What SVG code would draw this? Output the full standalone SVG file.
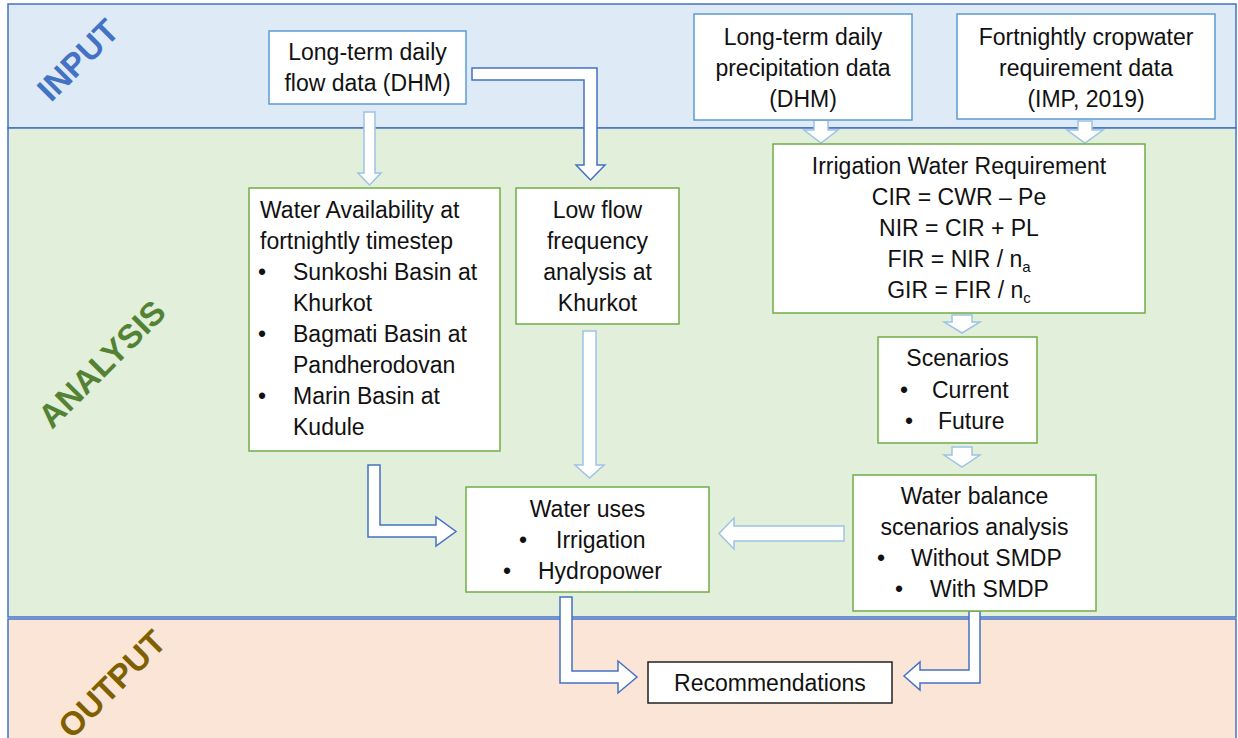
<svg xmlns="http://www.w3.org/2000/svg" width="1238" height="738" viewBox="0 0 1238 738">
<style>
.band{stroke:#4472C4;stroke-width:1.5}
.bx{fill:#fff;stroke-width:1.5}
.bb{stroke:#5B9BD5}
.gb{stroke:#70AD47}
.kb{stroke:#222}
text{font-family:"Liberation Sans",Arial,sans-serif;font-size:23px;fill:#111}
.c{text-anchor:middle}
.lbl{font-size:33px;font-weight:bold;text-anchor:middle}
.al{fill:#fff;stroke:#9DC3E6;stroke-width:1.5}
.ad{fill:#fff;stroke:#4472C4;stroke-width:1.5}
</style>
<g id="bands">
<rect class="band" x="8" y="4" width="1228" height="124" fill="#DEEBF7"/>
<rect class="band" x="8" y="128" width="1228" height="489" fill="#E2EFDA"/>
<rect class="band" x="8" y="619" width="1228" height="125" fill="#FBE5D6"/>
<text class="lbl" style="fill:#4472C4" transform="translate(86,68) rotate(-45)">INPUT</text>
<text class="lbl" style="fill:#548235" transform="translate(110,372) rotate(-45)">ANALYSIS</text>
<text class="lbl" style="fill:#7F6000" transform="translate(120,692) rotate(-45)">OUTPUT</text>
</g>
<g id="connectors">
<polygon class="al" points="364,112 375,112 375,173 381,173 369.5,185 358,173 364,173"/>
<polygon class="ad" points="472,68 597,68 597,165 605,165 590.5,180 576,165 584,165 584,80 472,80"/>
<polygon class="al" points="814,120 828,120 828,130 838,130 821,143 804,130 814,130"/>
<polygon class="al" points="1078,121 1092,121 1092,130 1103,130 1085,143 1067,130 1078,130"/>
<polygon class="al" points="952,315 972,315 972,322 980,322 962,333 944,322 952,322"/>
<polygon class="al" points="952,447 972,447 972,455 980,455 962,467 944,455 952,455"/>
<polygon class="al" points="583,331 596,331 596,465 604,465 589.5,478 575,465 583,465"/>
<polygon class="ad" points="368,465 380,465 380,525 436,525 436,517 456,531.5 436,546 436,537 368,537"/>
<polygon class="al" points="844,526 844,541 734,541 734,549 719,533.5 734,518 734,526"/>
<polygon class="ad" points="560,597 572,597 572,671 618,671 618,661 637,677 618,693 618,683 560,683"/>
<polygon class="ad" points="969,611 980,611 980,683 920,683 920,690 904,676 920,662 920,670 969,670"/>
</g>
<g id="n-flow">
<rect class="bx bb" x="269" y="31" width="197" height="73"/>
<text class="c" x="367.5" y="60">Long-term daily</text>
<text class="c" x="367.5" y="91">flow data (DHM)</text>
</g>
<g id="n-precip">
<rect class="bx bb" x="694" y="14" width="218" height="106"/>
<text class="c" x="803" y="45">Long-term daily</text>
<text class="c" x="803" y="76">precipitation data</text>
<text class="c" x="803" y="107">(DHM)</text>
</g>
<g id="n-crop">
<rect class="bx bb" x="957" y="14" width="258" height="105"/>
<text class="c" x="1086" y="45">Fortnightly cropwater</text>
<text class="c" x="1086" y="76">requirement data</text>
<text class="c" x="1086" y="107">(IMP, 2019)</text>
</g>
<g id="n-iwr">
<rect class="bx gb" x="773" y="144" width="372" height="169"/>
<text class="c" x="959" y="174">Irrigation Water Requirement</text>
<text class="c" x="959" y="205">CIR = CWR – Pe</text>
<text class="c" x="959" y="236">NIR =  CIR + PL</text>
<text class="c" x="959" y="267">FIR = NIR / n<tspan font-size="15" dy="5">a</tspan></text>
<text class="c" x="959" y="298">GIR = FIR / n<tspan font-size="15" dy="5">c</tspan></text>
</g>
<g id="n-avail">
<rect class="bx gb" x="249" y="188" width="251" height="263"/>
<text x="260" y="218">Water Availability at</text>
<text x="260" y="249">fortnightly timestep</text>
<text x="258" y="280">•</text><text x="293" y="280">Sunkoshi Basin at</text>
<text x="293" y="311">Khurkot</text>
<text x="258" y="342">•</text><text x="293" y="342">Bagmati Basin at</text>
<text x="293" y="373">Pandherodovan</text>
<text x="258" y="404">•</text><text x="293" y="404">Marin Basin at</text>
<text x="293" y="435">Kudule</text>
</g>
<g id="n-lowflow">
<rect class="bx gb" x="516" y="188" width="163" height="136"/>
<text class="c" x="597.5" y="218">Low flow</text>
<text class="c" x="597.5" y="249">frequency</text>
<text class="c" x="597.5" y="280">analysis at</text>
<text class="c" x="597.5" y="311">Khurkot</text>
</g>
<g id="n-scen">
<rect class="bx gb" x="878" y="337" width="159" height="106"/>
<text class="c" x="957.5" y="366">Scenarios</text>
<text x="900" y="398">•</text><text x="932" y="398">Current</text>
<text x="905" y="429">•</text><text x="938" y="429">Future</text>
</g>
<g id="n-balance">
<rect class="bx gb" x="853" y="475" width="243" height="136"/>
<text class="c" x="974.5" y="504">Water balance</text>
<text class="c" x="974.5" y="535">scenarios analysis</text>
<text x="877" y="566">•</text><text x="911" y="566">Without SMDP</text>
<text x="895" y="597">•</text><text x="930" y="597">With SMDP</text>
</g>
<g id="n-uses">
<rect class="bx gb" x="466" y="487" width="243" height="105"/>
<text class="c" x="587.5" y="517">Water uses</text>
<text x="519" y="548">•</text><text x="556" y="548">Irrigation</text>
<text x="503" y="579">•</text><text x="538" y="579">Hydropower</text>
</g>
<g id="n-rec">
<rect class="bx kb" x="648" y="662" width="244" height="41"/>
<text class="c" x="770" y="691">Recommendations</text>
</g>
</svg>
